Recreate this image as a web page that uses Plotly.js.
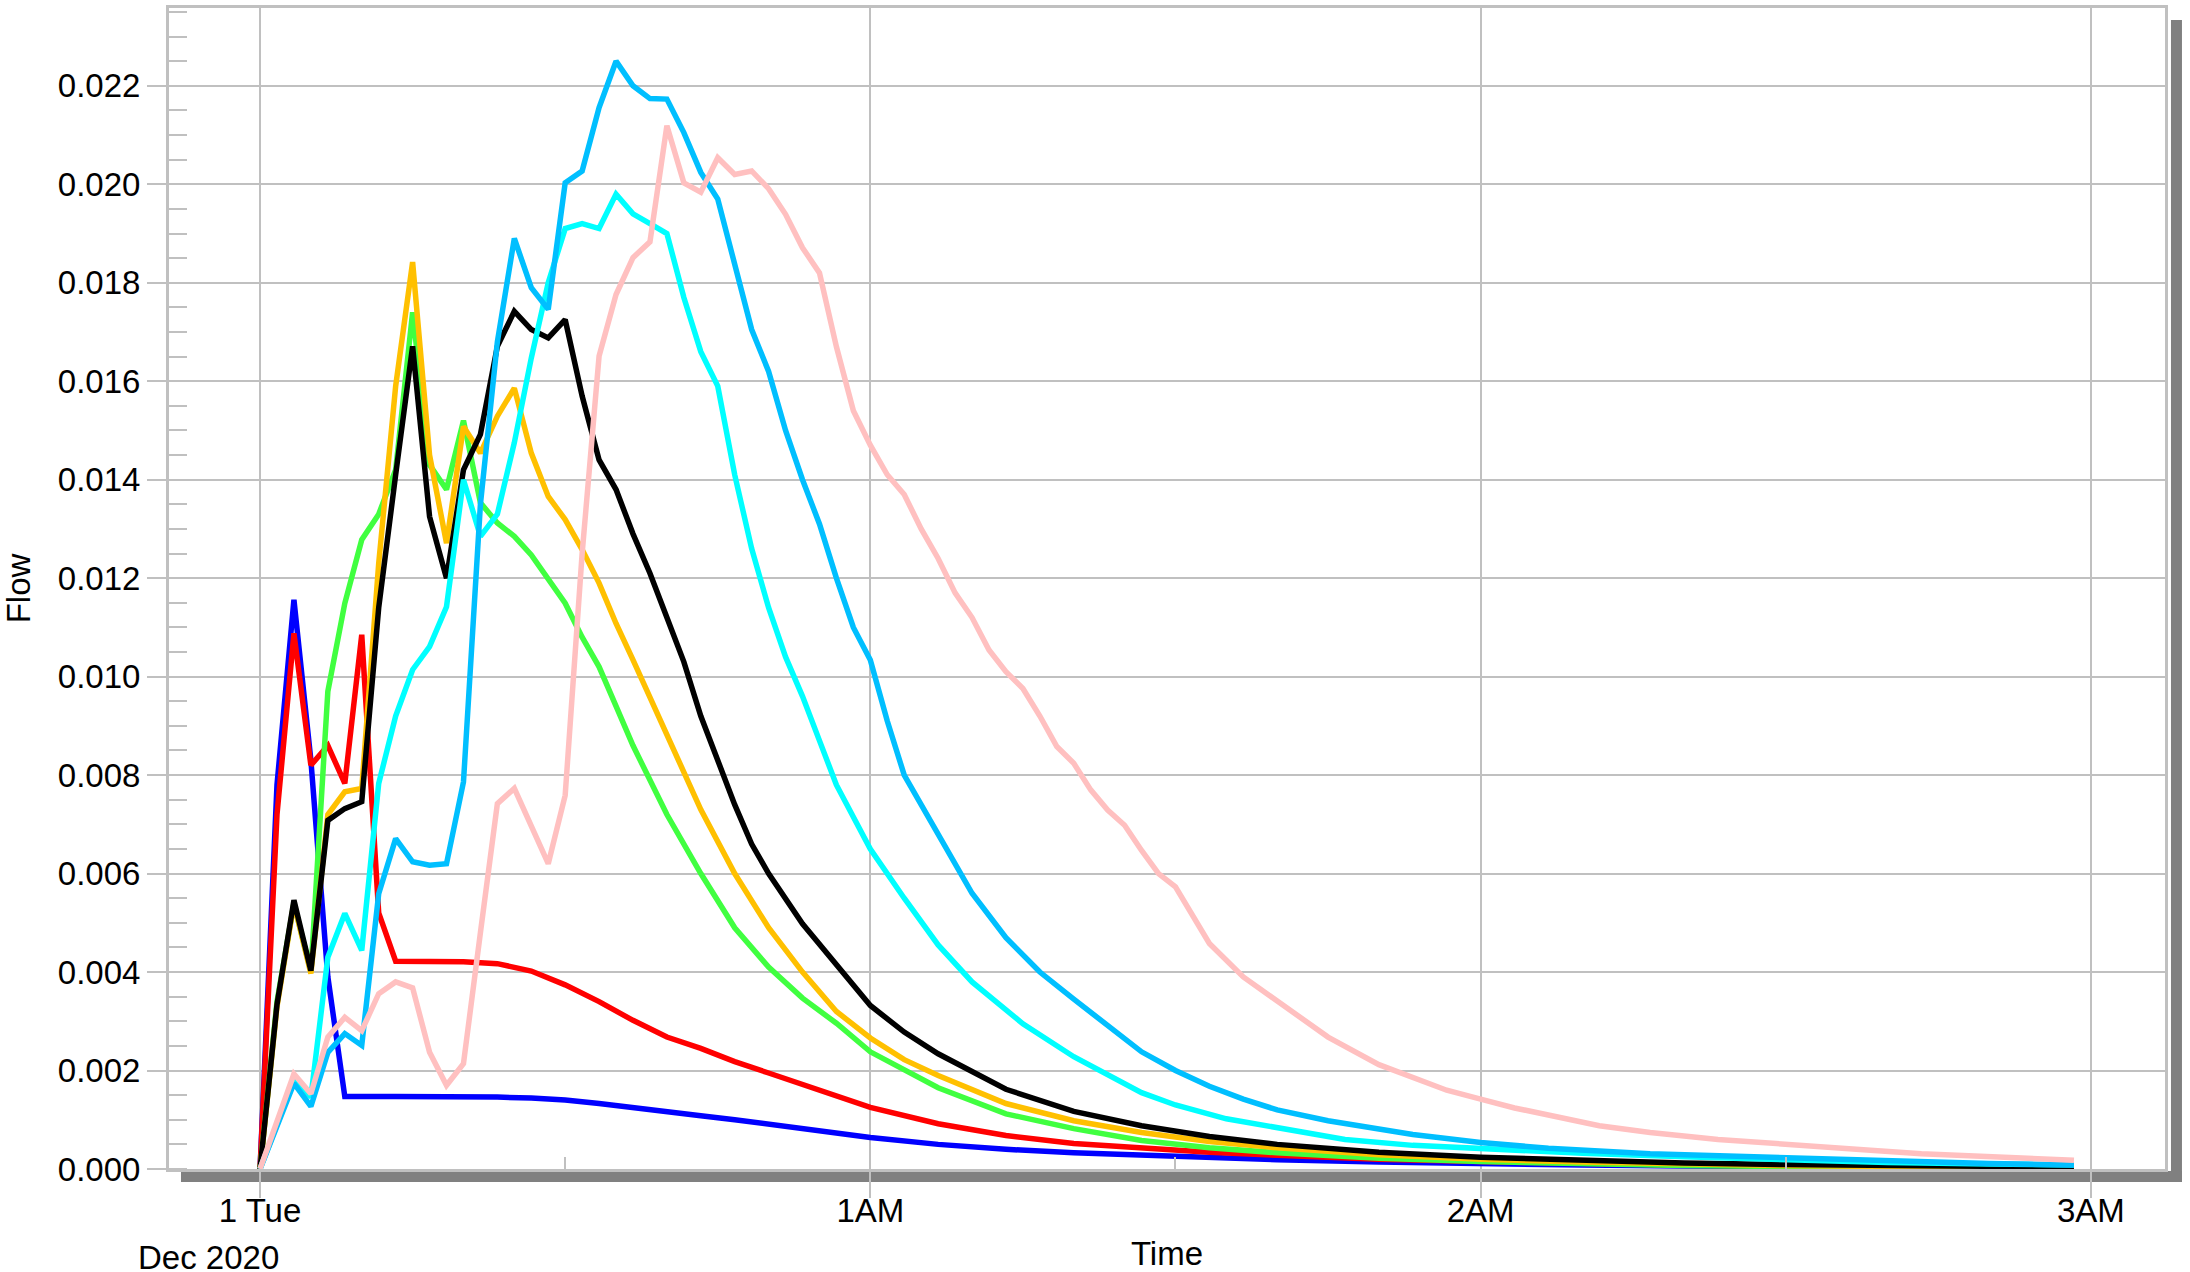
<!DOCTYPE html>
<html>
<head>
<meta charset="utf-8">
<script src="https://cdn.plot.ly/plotly-3.0.1.min.js"></script>
<style>html,body{margin:0;padding:0;background:#ffffff;}</style>
</head>
<body>
<div id="chart" style="width:2190px;height:1272px;"></div>
<script>
// Time is stored as step index; one step = 100 seconds after 2020-12-01 00:00
const STEP_SECONDS = 100;

const blueSteps = [0,1,2,3,4,5,8,11,14,16,18,20,22,24,26,28,30,33,36,40,44,48,52,56,60,66,72,78,84,90,96,102,107];
const blueFlow  = [0,0.0078,0.01156,0.0083,0.0039,0.00147,0.00147,0.00147,0.00146,0.00144,0.0014,0.00133,0.00124,0.00116,0.00108,0.001,0.00091,0.00078,0.00064,0.0005,0.0004,0.00033,0.00028,0.00023,0.00019,0.00014,0.0001,0.00008,0.00006,0.00005,0.00004,0.00003,0.00003];

const redSteps = [0,1,2,3,4,5,6,7,8,10,12,14,16,18,20,22,24,26,28,30,33,36,40,44,48,52,56,60,66,72,78,84,90,96,102,107];
const redFlow  = [0,0.0072,0.01088,0.0082,0.0086,0.00783,0.01085,0.0052,0.00422,0.00422,0.00421,0.00417,0.00402,0.00374,0.0034,0.00302,0.00268,0.00245,0.00218,0.00195,0.0016,0.00125,0.00092,0.00068,0.00052,0.00042,0.00034,0.00028,0.0002,0.00015,0.00011,0.00008,0.00006,0.00005,0.00004,0.00003];

const greenSteps = [0,1,2,3,4,5,6,7,8,9,10,11,12,13,14,15,16,17,18,19,20,21,22,24,26,28,30,32,34,36,40,44,48,52,56,60,66,72,78,84,90,96,102,107];
const greenFlow  = [0,0.0034,0.0054,0.0040,0.0097,0.01149,0.01278,0.0133,0.0142,0.0174,0.0143,0.0138,0.0152,0.01353,0.01312,0.01285,0.01247,0.012,0.01149,0.0108,0.0102,0.0094,0.0086,0.0072,0.006,0.0049,0.0041,0.00347,0.00296,0.00238,0.00165,0.00112,0.00082,0.00058,0.00043,0.00033,0.00022,0.00015,0.0001,0.00007,0.00005,0.00004,0.00003,0.00002];

const orangeSteps = [0,1,2,3,4,5,6,7,8,9,10,11,12,13,14,15,16,17,18,19,20,21,22,23,24,26,28,30,32,34,36,38,40,44,48,52,56,60,66,72,78,84,90,96,102,107];
const orangeFlow  = [0,0.0033,0.0054,0.00397,0.0072,0.00766,0.00773,0.0123,0.0159,0.01842,0.0145,0.01271,0.01508,0.01454,0.01529,0.01586,0.01454,0.01366,0.01319,0.01258,0.0119,0.01108,0.01034,0.00959,0.00878,0.0073,0.006,0.0049,0.0040,0.0032,0.00266,0.00222,0.0019,0.00133,0.00098,0.00074,0.00056,0.00043,0.00029,0.0002,0.00014,0.0001,0.00007,0.00005,0.00004,0.00003];

const blackSteps = [0,1,2,3,4,5,6,7,8,9,10,11,12,13,14,15,16,17,18,19,20,21,22,23,24,25,26,27,28,29,30,32,34,36,38,40,44,48,52,56,60,66,72,78,84,90,96,102,107];
const blackFlow  = [0,0.00334,0.00546,0.00403,0.00708,0.00732,0.00746,0.0114,0.0141,0.01671,0.01325,0.012,0.0142,0.01492,0.01671,0.01742,0.01705,0.01688,0.01725,0.0157,0.0144,0.0138,0.0129,0.0121,0.0112,0.0103,0.0092,0.0083,0.0074,0.0066,0.006,0.00498,0.00415,0.00332,0.00278,0.00234,0.00162,0.00117,0.00088,0.00066,0.0005,0.00034,0.00024,0.00017,0.00012,0.00009,0.00007,0.00005,0.00004];

const cyanSteps = [0,2,3,4,5,6,7,8,9,10,11,12,13,14,15,16,17,18,19,20,21,22,23,24,25,26,27,28,29,30,31,32,33,34,36,38,40,42,45,48,52,54,57,60,64,68,72,78,84,90,96,102,107];
const cyanFlow  = [0,0.0018,0.00146,0.0043,0.00519,0.00444,0.00783,0.0092,0.01014,0.01061,0.01142,0.0140,0.01285,0.0133,0.01475,0.01647,0.0180,0.0191,0.0192,0.0191,0.0198,0.0194,0.0192,0.0190,0.0177,0.0166,0.0159,0.0141,0.0126,0.0114,0.0104,0.0096,0.0087,0.0078,0.0065,0.0055,0.00455,0.0038,0.00295,0.00228,0.00155,0.0013,0.00102,0.00084,0.0006,0.00048,0.00041,0.00032,0.00025,0.00018,0.00013,0.0001,0.00008];

const skySteps = [0,2,3,4,5,6,7,8,9,10,11,12,13,14,15,16,17,18,19,20,21,22,23,24,25,26,27,28,29,30,31,32,33,34,35,36,37,38,39,40,42,44,46,48,50,52,54,56,58,60,63,68,72,76,82,90,96,102,107];
const skyFlow  = [0,0.00174,0.00127,0.00237,0.00275,0.00251,0.00559,0.00671,0.00624,0.00617,0.0062,0.00786,0.0135,0.0168,0.0189,0.0179,0.01746,0.02003,0.02027,0.02156,0.0225,0.022,0.02174,0.02173,0.02105,0.02024,0.0197,0.01834,0.01705,0.0162,0.015,0.014,0.0131,0.012,0.011,0.01034,0.0091,0.008,0.0074,0.0068,0.0056,0.0047,0.004,0.00345,0.0029,0.00238,0.002,0.00168,0.00142,0.0012,0.00098,0.0007,0.00054,0.00042,0.00031,0.00022,0.00016,0.00011,0.00008];

const pinkSteps = [0,2,3,4,5,6,7,8,9,10,11,12,13,14,15,16,17,18,19,20,21,22,23,24,25,26,27,28,29,30,31,32,33,34,35,36,37,38,39,40,41,42,43,44,45,46,47,48,49,50,51,52,53,54,55,56,58,60,63,66,70,72,74,79,82,86,90,95,98,102,107];
const pinkFlow  = [0,0.00193,0.00153,0.00268,0.00308,0.00281,0.00356,0.0038,0.00368,0.00237,0.0017,0.00214,0.0048,0.00742,0.00773,0.00695,0.0062,0.00759,0.0125,0.01651,0.01776,0.01851,0.01883,0.02119,0.02003,0.01984,0.02054,0.0202,0.02027,0.01991,0.01939,0.01871,0.0182,0.0167,0.0154,0.0147,0.0141,0.0137,0.013,0.0124,0.0117,0.0112,0.01054,0.0101,0.00976,0.0092,0.00858,0.00824,0.0077,0.00729,0.00698,0.00647,0.006,0.00573,0.00515,0.00458,0.0039,0.0034,0.00268,0.00212,0.0016,0.00142,0.00124,0.00088,0.00074,0.0006,0.00049,0.00038,0.00031,0.00025,0.00018];

const xTickSeconds = [0, 3600, 7200, 10800];
const xTickLabels  = ['1 Tue', '1AM', '2AM', '3AM'];
const xMinorSeconds = [1800, 5400, 9000];

function ts(sec) {
  const d = new Date(Date.UTC(2020, 11, 1, 0, 0, 0) + Math.round(sec * 1000));
  return d.toISOString().replace('T', ' ').replace('Z', '').slice(0, 19);
}
function stepsToTimes(steps) { return steps.map(k => ts(k * STEP_SECONDS)); }

const series = [
  {name: 'Series 1', steps: blueSteps,   flow: blueFlow,   color: '#0000FF'},
  {name: 'Series 2', steps: redSteps,    flow: redFlow,    color: '#FF0000'},
  {name: 'Series 3', steps: greenSteps,  flow: greenFlow,  color: '#40FF40'},
  {name: 'Series 4', steps: orangeSteps, flow: orangeFlow, color: '#FFC000'},
  {name: 'Series 5', steps: blackSteps,  flow: blackFlow,  color: '#000000'},
  {name: 'Series 6', steps: cyanSteps,   flow: cyanFlow,   color: '#00FFFF'},
  {name: 'Series 7', steps: skySteps,    flow: skyFlow,    color: '#00BFFF'},
  {name: 'Series 8', steps: pinkSteps,   flow: pinkFlow,   color: '#FFC0C0'}
];

const traces = series.map(s => ({
  type: 'scatter', mode: 'lines', name: s.name,
  x: stepsToTimes(s.steps), y: s.flow,
  line: {color: s.color, width: 5.5, shape: 'linear'},
  hoverinfo: 'skip'
}));

const FONT = 'Liberation Sans, Arial, Helvetica, sans-serif';
const GRID = '#c0c0c0';
const SHADOW = '#808080';

const layout = {
  width: 2190, height: 1272,
  margin: {l: 169, r: 25, t: 8, b: 103, pad: 0},
  paper_bgcolor: '#ffffff', plot_bgcolor: '#ffffff',
  showlegend: false,
  font: {family: FONT, size: 33, color: '#000000'},
  xaxis: {
    type: 'date',
    range: [ts(-537), ts(11237)],
    tickmode: 'array', tickvals: xTickSeconds.map(ts), ticktext: xTickLabels,
    ticks: 'outside', ticklen: 26, tickwidth: 2, tickcolor: GRID,
    ticklabelstandoff: -16,
    tickfont: {family: FONT, size: 33, color: '#000'},
    showgrid: true, gridcolor: GRID, gridwidth: 2,
    showline: true, linecolor: GRID, linewidth: 3, mirror: true,
    zeroline: false,
    minor: {tickmode: 'array', tickvals: xMinorSeconds.map(ts), ticks: 'inside', ticklen: 12, tickwidth: 2, tickcolor: GRID, showgrid: false},
    title: {text: 'Time', font: {family: FONT, size: 33, color: '#000'}, standoff: 37},
    automargin: false
  },
  yaxis: {
    range: [0, 0.02358],
    tickmode: 'linear', tick0: 0, dtick: 0.002, tickformat: '.3f',
    ticks: 'outside', ticklen: 19, tickwidth: 2, tickcolor: GRID,
    tickfont: {family: FONT, size: 33, color: '#000'},
    showgrid: true, gridcolor: GRID, gridwidth: 2,
    showline: true, linecolor: GRID, linewidth: 3, mirror: true,
    zeroline: false,
    minor: {tickmode: 'linear', tick0: 0, dtick: 0.0005, ticks: 'inside', ticklen: 18, tickwidth: 2, tickcolor: GRID, showgrid: false},
    title: {text: 'Flow', font: {family: FONT, size: 33, color: '#000'}, standoff: 22},
    automargin: false
  },
  shapes: [
    {type: 'rect', xref: 'paper', yref: 'paper', x0: 0.006, x1: 1.0085, y0: -0.0112, y1: -0.0017,
     fillcolor: SHADOW, line: {width: 0}, layer: 'below'},
    {type: 'rect', xref: 'paper', yref: 'paper', x0: 1.003, x1: 1.0085, y0: -0.0112, y1: 0.9897,
     fillcolor: SHADOW, line: {width: 0}, layer: 'below'}
  ],
  annotations: [
    {text: 'Dec 2020', xref: 'paper', yref: 'paper', x: 0.02, y: -0.0765,
     xanchor: 'center', yanchor: 'middle', showarrow: false,
     font: {family: FONT, size: 33, color: '#000'}}
  ]
};

Plotly.newPlot('chart', traces, layout, {displayModeBar: false, responsive: false});
</script>
</body>
</html>
